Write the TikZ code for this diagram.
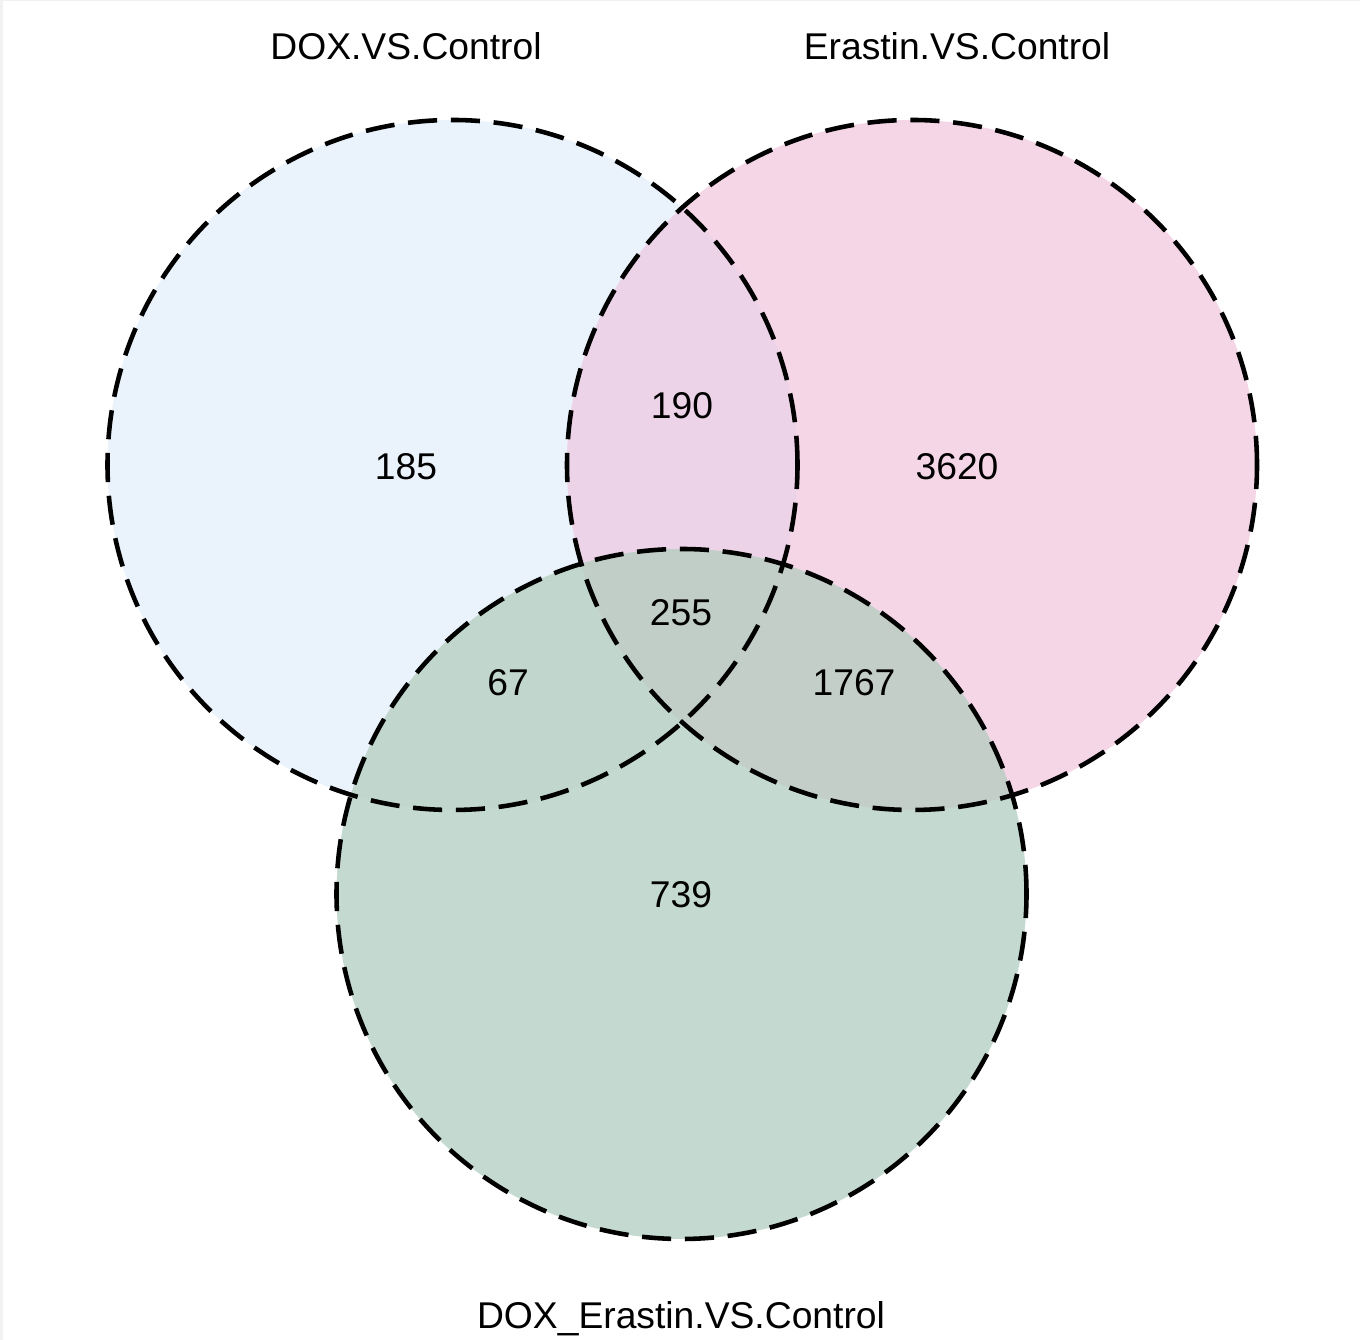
\documentclass[tikz,border=0pt]{standalone}
\usepackage{fontspec}
\setmainfont{Liberation Sans}
\usetikzlibrary{positioning}
\definecolor{dox_blue}{RGB}{234, 242, 252}
\definecolor{era_pink}{RGB}{245, 214, 231}
\definecolor{both_green}{RGB}{196, 217, 207}
\definecolor{dox_era}{RGB}{237, 211, 231}
\definecolor{dox_both}{RGB}{193, 215, 205}
\definecolor{era_both}{RGB}{196, 206, 200}
\definecolor{all_three}{RGB}{193, 205, 199}
\definecolor{frame_gray}{RGB}{242, 242, 242}

\begin{document}
\begin{tikzpicture}[
    font=\fontsize{10.6}{12}\selectfont,
    % Styles
    venn_line/.style={
        draw=black, line width=1.3pt, dash pattern=on 8.3pt off 3.9pt
    },
    count_label/.style={
        inner sep=0pt, anchor=base
    },
    set_label/.style={
        inner sep=0pt, anchor=base
    }
]
\useasboundingbox (0,0) rectangle (13.6,13.4);
\fill[frame_gray] (0,0) rectangle (0.03,13.4);
\fill[frame_gray] (0,13.39) rectangle (13.6,13.4);

% 1. Set centres
\def\vennr{3.45}
\coordinate (dox) at (4.525,8.75);
\coordinate (era) at (9.12,8.75);
\coordinate (both) at (6.815,4.46);

% 2. Region fills
\fill[dox_blue] (dox) circle (\vennr);
\fill[era_pink] (era) circle (\vennr);
\fill[both_green] (both) circle (\vennr);
\begin{scope}
    \clip (dox) circle (\vennr);
    \fill[dox_era] (era) circle (\vennr);
\end{scope}
\begin{scope}
    \clip (both) circle (\vennr);
    \fill[dox_both] (dox) circle (\vennr);
    \fill[era_both] (era) circle (\vennr);
    \clip (dox) circle (\vennr);
    \fill[all_three] (era) circle (\vennr);
\end{scope}

% 3. Dashed outlines
\draw[venn_line] (dox) circle (\vennr);
\draw[venn_line] (era) circle (\vennr);
\draw[venn_line] (both) circle (\vennr);

% 4. Counts
\node[count_label] (n_dox) at (4.06,8.60) {185};
\node[count_label] (n_dox_era) at (6.82,9.21) {190};
\node[count_label] (n_era) at (9.57,8.60) {3620};
\node[count_label] (n_all) at (6.81,7.14) {255};
\node[count_label] (n_dox_both) at (5.08,6.44) {67};
\node[count_label] (n_era_both) at (8.54,6.44) {1767};
\node[count_label] (n_both) at (6.81,4.32) {739};

% 5. Set names
\node[set_label] (lbl_dox) at (4.06,12.80) {DOX.VS.Control};
\node[set_label] (lbl_era) at (9.57,12.80) {Erastin.VS.Control};
\node[set_label] (lbl_both) at (6.81,0.11) {DOX\_Erastin.VS.Control};

\end{tikzpicture}
\end{document}
